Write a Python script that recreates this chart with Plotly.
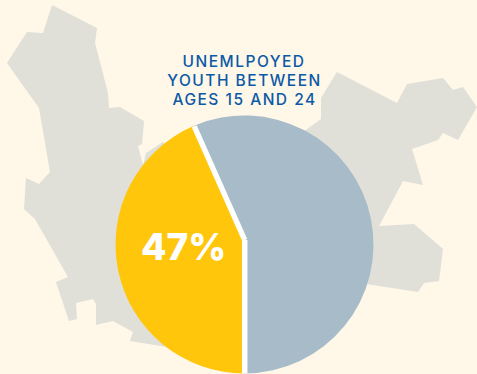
import math
import plotly.graph_objects as go

W, H = 477, 374
slice_labels = ["Unemployed", "Other"]
slice_values = [43.6, 56.4]
slice_colors = ["#FFC60B", "#A7BBC9"]
big_label = "47%"
title_lines = ["UNEMLPOYED", "YOUTH BETWEEN", "AGES 15 AND 24"]
title_y = [61, 80, 99]

left_map_x = [52, 97, 95, 108, 109, 120, 144, 142, 138, 143, 146, 163, 244, 167, 130, 133, 113, 96, 96, 93, 76, 77, 69, 56, 68, 35, 24, 26, 39, 50, 39, 7, 27, 43]
left_map_y = [5, 28, 43, 93, 108, 107, 121, 144, 146, 165, 153, 142, 244, 347, 341, 332, 321, 325, 304, 299, 303, 319, 321, 282, 277, 219, 209, 178, 184, 172, 108, 63, 32, 33]
right_map_x = [337, 397, 407, 443, 453, 463, 477, 458, 443, 438, 412, 423, 403, 379, 414, 443, 439, 424, 418, 366, 244, 303, 321, 321]
right_map_y = [72, 103, 84, 78, 90, 87, 107, 140, 133, 140, 149, 185, 181, 226, 224, 249, 281, 283, 292, 284, 244, 132, 119, 98]

BG = "#FFF7E8"
MAP = "#E0E0D8"
TXT = "#0B5AA6"
cx, cy, R = 244.5, 244.5, 129
hub_x, hub_y = 244.7, 240

fig = go.Figure()
for xs, ys in ((left_map_x, left_map_y), (right_map_x, right_map_y)):
    fig.add_trace(go.Scatter(x=xs, y=ys, mode="lines", fill="toself", fillcolor=MAP,
                             line=dict(width=0, color=MAP), hoverinfo="skip", showlegend=False))

fig.add_trace(go.Pie(labels=slice_labels, values=slice_values, sort=False, direction="clockwise",
                     rotation=180, textinfo="none", hoverinfo="skip", showlegend=False,
                     marker=dict(colors=slice_colors, line=dict(width=0)),
                     domain=dict(x=[(cx - R) / W, (cx + R) / W], y=[(H - cy - R) / H, (H - cy + R) / H])))

# white separators, placed from the slice shares
share = slice_values[0] / sum(slice_values)
theta = math.pi + 2 * math.pi * share
seps = [(hub_x, hub_y, hub_x, cy + R),
        (hub_x, hub_y, cx + (R - 0.5) * math.sin(theta), cy - (R - 0.5) * math.cos(theta))]
shapes = [dict(type="line", xref="x", yref="y", x0=a, y0=b, x1=c, y1=d,
               line=dict(color="white", width=5.5), layer="above") for a, b, c, d in seps]

annotations = [
    dict(x=244, y=yy, xref="x", yref="y", text=line, showarrow=False, align="center",
         font=dict(family="Inter", size=15.5, color=TXT, weight=500))
    for line, yy in zip(title_lines, title_y)
]
annotations.append(
    dict(x=183, y=246, xref="x", yref="y", text=big_label, showarrow=False,
         font=dict(family="Inter", size=37, color="white", weight=800)))

fig.update_layout(width=W, height=H, margin=dict(l=0, r=0, t=0, b=0), paper_bgcolor=BG, plot_bgcolor=BG,
                  xaxis=dict(range=[0, W], visible=False, fixedrange=True),
                  yaxis=dict(range=[H, 0], visible=False, fixedrange=True),
                  shapes=shapes, annotations=annotations, showlegend=False)
fig.write_html("out.html", config=dict(displayModeBar=False),
               post_script=("document.body.style.margin='0';document.body.style.background='%s';"
                            "document.querySelectorAll('.annotation-text').forEach(function(t,i){"
                            "if(i<3){t.style.letterSpacing='1.5px';}});") % BG)
